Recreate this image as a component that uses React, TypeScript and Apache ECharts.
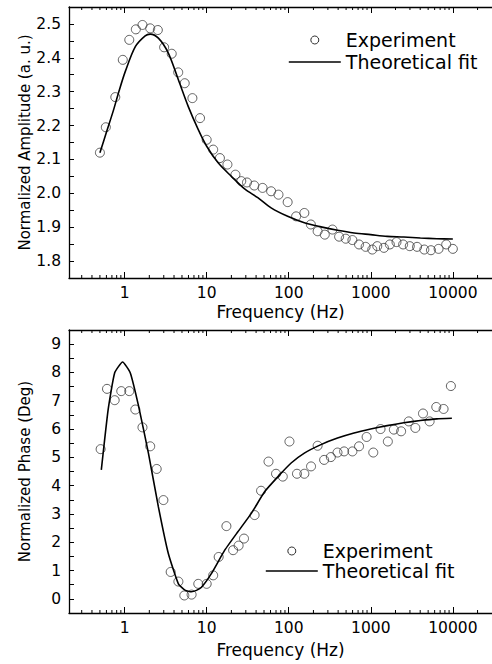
import React, { useEffect, useRef } from "react";
import * as echarts from "echarts";

// ---- Amplitude panel ----
const ampExpFreq = [0.5, 0.59, 0.77, 0.95, 1.14, 1.37, 1.65, 2.05, 2.54, 3.03, 3.75, 4.5, 5.4, 6.7, 8.3, 10, 12, 14.5, 17.9, 22.4, 26.4, 31, 38, 48, 61, 75, 97, 123, 155, 186, 225, 275, 341, 411, 495, 597, 719, 865, 1042, 1199, 1445, 1707, 2057, 2477, 2985, 3664, 4490, 5410, 6700, 8300, 10000];
const ampExp = [2.12, 2.195, 2.284, 2.394, 2.453, 2.484, 2.497, 2.487, 2.482, 2.431, 2.412, 2.357, 2.325, 2.281, 2.222, 2.158, 2.129, 2.104, 2.085, 2.055, 2.036, 2.032, 2.023, 2.016, 2.006, 1.996, 1.974, 1.932, 1.942, 1.908, 1.888, 1.878, 1.893, 1.872, 1.866, 1.862, 1.849, 1.842, 1.834, 1.844, 1.839, 1.849, 1.856, 1.849, 1.844, 1.842, 1.834, 1.832, 1.836, 1.849, 1.836];
const ampFitFreq = [0.5, 0.6, 0.735, 0.85, 1.02, 1.35, 1.78, 2.05, 2.58, 3.41, 4.52, 5.97, 7.9, 10, 13.8, 20, 29, 42, 61, 97, 155, 247, 393, 625, 995, 1585, 2524, 4018, 6400, 10000];
const ampFit = [2.12, 2.18, 2.247, 2.3, 2.36, 2.433, 2.465, 2.47, 2.458, 2.414, 2.335, 2.256, 2.188, 2.139, 2.09, 2.05, 2.013, 1.987, 1.957, 1.932, 1.913, 1.901, 1.891, 1.883, 1.878, 1.873, 1.871, 1.868, 1.866, 1.865];

// ---- Phase panel ----
const phaseExpFreq = [0.51, 0.61, 0.757, 0.91, 1.14, 1.35, 1.65, 2.05, 2.46, 2.97, 3.64, 4.52, 5.34, 6.55, 7.9, 10, 12, 14, 17.4, 21, 24.5, 28.5, 38.4, 46, 56.7, 70, 84.6, 102, 126, 155, 187, 225, 270, 326, 393, 473, 597, 719, 889, 1072, 1315, 1614, 1910, 2342, 2903, 3492, 4326, 5210, 6280, 7710, 9460];
const phaseExp = [5.29, 7.42, 7.02, 7.34, 7.34, 6.69, 6.06, 5.39, 4.59, 3.49, 0.95, 0.61, 0.12, 0.15, 0.53, 0.53, 0.83, 1.48, 2.57, 1.72, 1.88, 2.13, 2.96, 3.82, 4.85, 4.42, 4.32, 5.56, 4.42, 4.42, 4.68, 5.41, 4.91, 5.01, 5.17, 5.21, 5.21, 5.39, 5.72, 5.17, 6.0, 5.56, 5.98, 5.92, 6.27, 6.04, 6.55, 6.27, 6.78, 6.71, 7.52];
const phaseFitFreq = [0.52, 0.63, 0.757, 0.945, 1.17, 1.48, 1.95, 2.58, 3.41, 4.52, 5.5, 6.5, 7.5, 8.65, 11.4, 16.6, 24, 35, 51, 74, 107, 155, 247, 393, 625, 995, 1585, 2524, 4018, 6400, 9730];
const phaseFit = [4.56, 6.69, 7.99, 8.37, 7.99, 6.81, 5.15, 3.25, 1.6, 0.53, 0.3, 0.25, 0.3, 0.41, 0.89, 1.72, 2.37, 3.02, 3.79, 4.32, 4.8, 5.15, 5.45, 5.68, 5.86, 6.0, 6.12, 6.22, 6.3, 6.36, 6.38];

const xLabels = ["1", "10", "100", "1000", "10000"];
const seriesNames = ["Experiment", "Theoretical fit"];

const X_MIN = 0.21;
const X_MAX = 30000;
const FONT = "DejaVu Sans";

const zip = (xs: number[], ys: number[]) => xs.map((x, i) => [x, ys[i]]);

export default function App() {
  const ref = useRef<HTMLDivElement>(null);
  useEffect(() => {
    document.body.style.margin = "0";
    const chart = echarts.init(ref.current!, null, { renderer: "svg" });

    const xLabelFmt = (v: number) => {
      const l = Math.log10(v);
      if (Math.abs(l - Math.round(l)) > 1e-6) return "";
      const s = String(Math.round(v));
      return xLabels.includes(s) ? s : "";
    };

    const mkX = (gridIndex: number, top: boolean, nameGap: number) => ({
      type: "log",
      logBase: 10,
      gridIndex,
      position: top ? "top" : "bottom",
      min: X_MIN,
      max: X_MAX,
      axisLine: { show: true, onZero: false, lineStyle: { color: "#000", width: 1.3 } },
      axisTick: { show: true, inside: true, length: 6, lineStyle: { color: "#000", width: 1 } },
      axisLabel: {
        show: !top,
        color: "#000",
        fontFamily: FONT,
        fontSize: 15.5,
        margin: 7,
        formatter: xLabelFmt,
        showMinLabel: false,
        showMaxLabel: false,
      },
      splitLine: { show: false },
      name: top ? "" : "Frequency (Hz)",
      nameLocation: "middle",
      nameGap,
      nameMoveOverlap: false,
      nameTextStyle: { fontFamily: FONT, fontSize: 17, color: "#000" },
    });

    const mkY = (gridIndex: number, min: number, max: number, interval: number, step: number, decimals: number, name: string) => ({
      type: "value",
      gridIndex,
      min,
      max,
      interval,
      axisLine: { show: true, onZero: false, lineStyle: { color: "#000", width: 1.3 } },
      axisTick: { show: true, inside: true, length: 5, lineStyle: { color: "#000", width: 1 } },
      axisLabel: {
        color: "#000",
        fontFamily: FONT,
        fontSize: 15.5,
        margin: 8,
        formatter: (v: number) => {
          const k = v / step;
          if (Math.abs(k - Math.round(k)) > 1e-6) return "";
          if (v > max - 1e-9) return "";
          return v.toFixed(decimals);
        },
      },
      splitLine: { show: false },
      name,
      nameLocation: "middle",
      nameGap: 37,
      nameMoveOverlap: false,
      nameTextStyle: { fontFamily: FONT, fontSize: 15, color: "#000" },
    });

    const scatterStyle = {
      symbol: "circle",
      symbolSize: 9,
      itemStyle: { color: "rgba(0,0,0,0)", borderColor: "#3a3a3a", borderWidth: 1 },
    };

    const legendBase = {
      orient: "vertical",
      padding: 0,
      itemWidth: 52,
      itemHeight: 8,
      selectedMode: false,
      data: [
        { name: seriesNames[0], itemStyle: { color: "rgba(0,0,0,0)", borderColor: "#000", borderWidth: 1 } },
        { name: seriesNames[1], itemStyle: { opacity: 0 }, lineStyle: { color: "#000", width: 1.6 } },
      ],
      textStyle: { fontFamily: FONT, fontSize: 19, color: "#000", lineHeight: 20 },
    };

    const option: any = {
      animation: false,
      backgroundColor: "#fff",
      grid: [
        { left: 69, top: 7, width: 425, height: 271 },
        { left: 69, top: 330, width: 425, height: 283 },
      ],
      xAxis: [mkX(0, false, 25), mkX(0, true, 0), mkX(1, false, 28), mkX(1, true, 0)],
      yAxis: [
        mkY(0, 1.75, 2.55, 0.05, 0.1, 1, "Normalized Amplitude (a. u.)"),
        mkY(1, -0.5, 9.5, 0.5, 1, 0, "Normalized Phase (Deg)"),
      ],
      legend: [
        { ...legendBase, left: 288, top: 30, itemGap: 2 },
        { ...legendBase, left: 265, top: 541, itemGap: 0 },
      ],
      series: [
        { name: seriesNames[0], type: "scatter", xAxisIndex: 0, yAxisIndex: 0, data: zip(ampExpFreq, ampExp), ...scatterStyle },
        { name: seriesNames[1], type: "line", xAxisIndex: 0, yAxisIndex: 0, data: zip(ampFitFreq, ampFit), symbol: "none", showSymbol: false, smooth: 0.3, lineStyle: { color: "#000", width: 1.6 }, itemStyle: { color: "#000" } },
        { name: seriesNames[0], type: "scatter", xAxisIndex: 2, yAxisIndex: 1, data: zip(phaseExpFreq, phaseExp), ...scatterStyle },
        { name: seriesNames[1], type: "line", xAxisIndex: 2, yAxisIndex: 1, data: zip(phaseFitFreq, phaseFit), symbol: "none", showSymbol: false, smooth: 0.15, lineStyle: { color: "#000", width: 1.6 }, itemStyle: { color: "#000" } },
      ],
    };
    chart.setOption(option);

    // minor ticks at 2..9 × 10^d on bottom and top axes, positioned via the axis scale
    const graphics: any[] = [];
    const yRanges = [
      [1.75, 2.55],
      [-0.5, 9.5],
    ];
    [0, 1].forEach((g) => {
      const yb = chart.convertToPixel({ yAxisIndex: g } as any, yRanges[g][0]) as number;
      const yt = chart.convertToPixel({ yAxisIndex: g } as any, yRanges[g][1]) as number;
      for (let d = -1; d <= 4; d++) {
        for (let m = 2; m <= 9; m++) {
          const v = m * Math.pow(10, d);
          if (v <= X_MIN || v >= X_MAX) continue;
          const x = chart.convertToPixel({ xAxisIndex: g * 2 } as any, v) as number;
          graphics.push({ type: "line", silent: true, shape: { x1: x, y1: yb, x2: x, y2: yb - 3 }, style: { stroke: "#000", lineWidth: 1 } });
          graphics.push({ type: "line", silent: true, shape: { x1: x, y1: yt, x2: x, y2: yt + 3 }, style: { stroke: "#000", lineWidth: 1 } });
        }
      }
    });
    chart.setOption({ graphic: graphics });

    return () => chart.dispose();
  }, []);
  return <div ref={ref} style={{ width: 492, height: 664 }} />;
}
